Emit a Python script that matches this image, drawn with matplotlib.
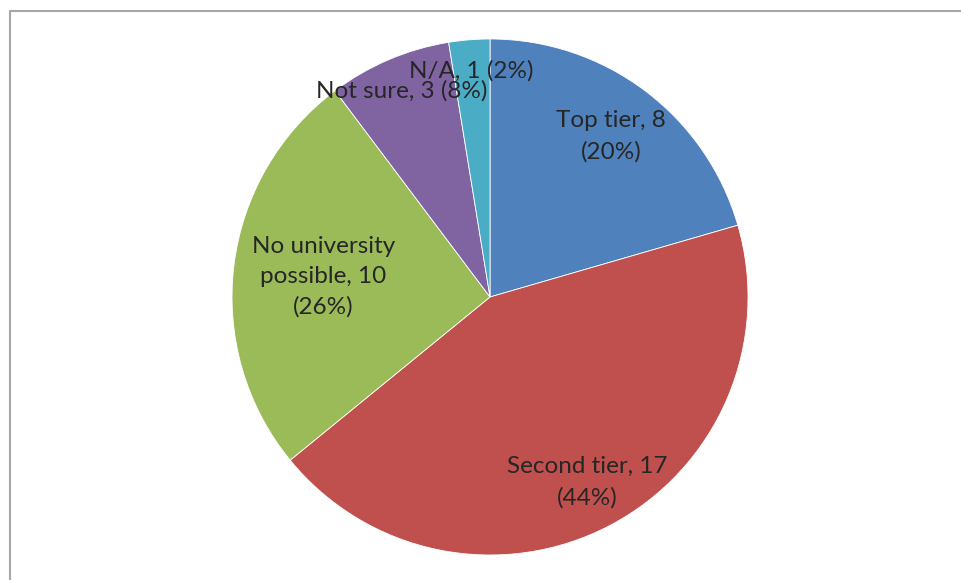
import numpy as np
import matplotlib
matplotlib.use("Agg")
import matplotlib.pyplot as plt
from matplotlib.lines import Line2D

categories = ["Top tier", "Second tier", "No university\npossible", "Not sure", "N/A"]
counts = [8, 17, 10, 3, 1]
percents = ["20%", "44%", "26%", "8%", "2%"]
colors = ["#4F81BD", "#C0504D", "#9BBB59", "#8064A2", "#4BACC6"]
# label text layout: multi-line or single line, and distance from centre
label_dist = [0.78, 0.81, 0.65, 0.87, 0.88]
one_line = [False, False, False, True, True]

plt.rcParams['font.family'] = ['Lato', 'DejaVu Sans']

fig = plt.figure(figsize=(9.61, 5.8), dpi=100)
ax = fig.add_axes([0.2414, 0.0431, 0.537, 0.8897])

wedges, _ = ax.pie(counts, colors=colors, startangle=90, counterclock=False,
                   radius=1, wedgeprops=dict(edgecolor="white", linewidth=0.6))
ax.set_xlim(-1, 1)
ax.set_ylim(-1, 1)
ax.set_aspect("equal")
ax.axis("off")

for w, cat, n, pct, d, single in zip(wedges, categories, counts, percents,
                                     label_dist, one_line):
    mid = np.deg2rad((w.theta1 + w.theta2) / 2)
    sep = " " if single else "\n"
    txt = "%s, %d%s(%s)" % (cat, n, sep, pct)
    ax.text(d * np.cos(mid), d * np.sin(mid), txt, ha="center", va="center",
            fontsize=17.5, color="#262626", linespacing=1.55)

# chart area border (left and top edges)
x0 = 10 / 961
y0 = 1 - 11 / 580
fig.add_artist(Line2D([x0, x0, 1], [0, y0, y0], transform=fig.transFigure,
                      color="#A6A6A6", linewidth=1.5))

fig.savefig("out.png", dpi=100)
